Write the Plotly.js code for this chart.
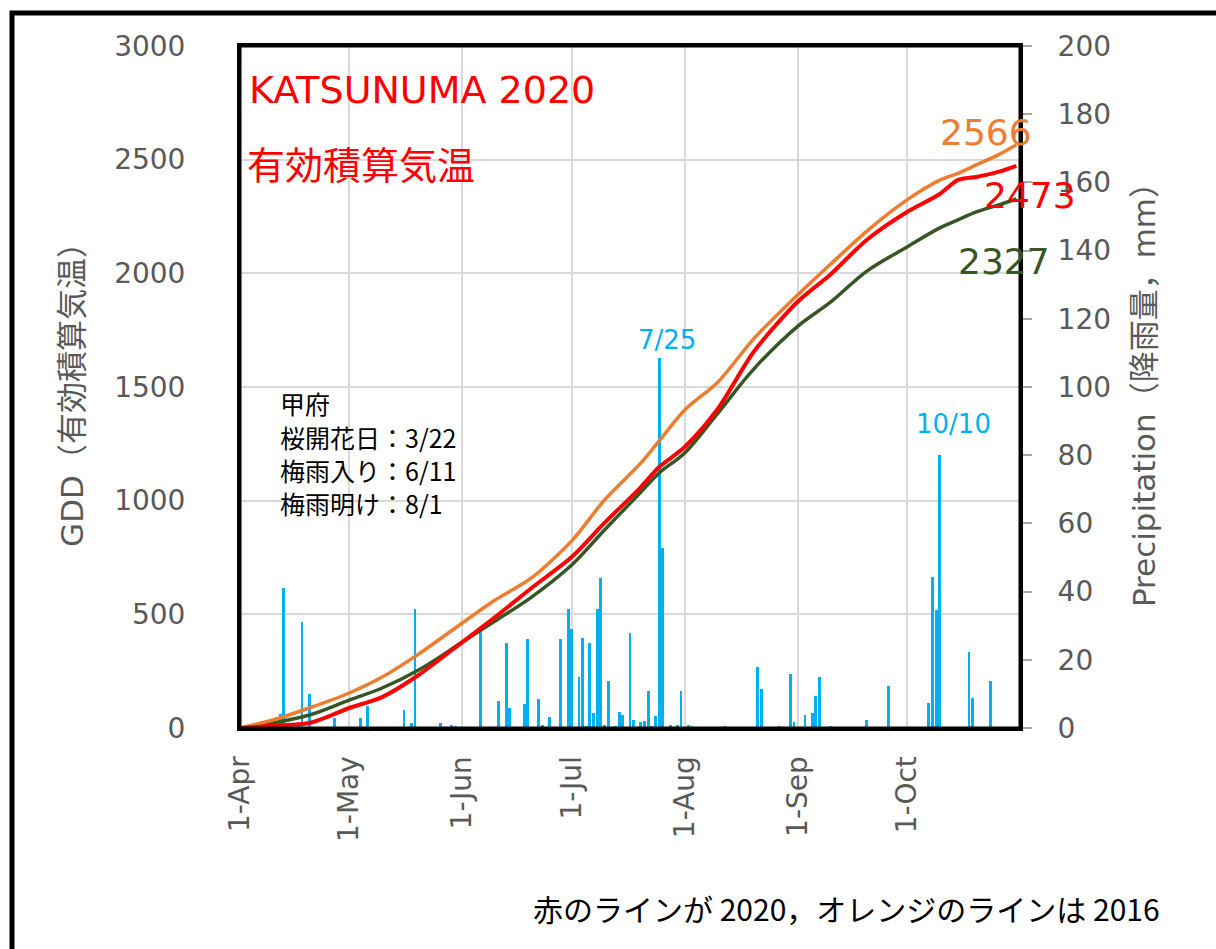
<!DOCTYPE html>
<html><head><meta charset="utf-8">
<script src="https://cdn.plot.ly/plotly-3.0.1.min.js"></script>
<style>html,body{margin:0;padding:0;background:#fff}#chart{width:1216px;height:949px}</style>
</head><body><div id="chart"></div>
<script>
// ---- Data ----
const precipDates = ['2020-04-01','2020-04-12','2020-04-13','2020-04-17','2020-04-18','2020-04-20','2020-04-27','2020-05-04','2020-05-06','2020-05-16','2020-05-18','2020-05-19','2020-05-26','2020-05-29','2020-05-30','2020-06-06','2020-06-11','2020-06-13','2020-06-14','2020-06-18','2020-06-19','2020-06-22','2020-06-23','2020-06-25','2020-06-28','2020-06-30','2020-07-01','2020-07-03','2020-07-04','2020-07-05','2020-07-06','2020-07-07','2020-07-08','2020-07-09','2020-07-10','2020-07-11','2020-07-13','2020-07-14','2020-07-15','2020-07-17','2020-07-18','2020-07-20','2020-07-21','2020-07-22','2020-07-23','2020-07-24','2020-07-25','2020-07-26','2020-07-27','2020-07-28','2020-07-30','2020-07-31','2020-08-02','2020-08-03','2020-08-12','2020-08-21','2020-08-22','2020-08-27','2020-08-30','2020-08-31','2020-09-03','2020-09-05','2020-09-06','2020-09-07','2020-09-10','2020-09-20','2020-09-26','2020-10-07','2020-10-08','2020-10-09','2020-10-10','2020-10-18','2020-10-19','2020-10-24'];
const precipMM = [11,4,41,0.5,31,10,3,3,6.5,5.3,1.5,35,1.5,1,0.5,29,8,25,6,7,26,8.5,1,3.3,26,35,29,15,26.4,0.5,25,4.4,35,44,1,13.8,0.5,4.7,3.8,27.8,2.3,1.7,2,10.8,0.5,3.4,108.5,52.8,0.3,1,1,10.9,1,0.5,0.5,17.9,11.4,0.5,15.8,1.8,3.8,4.4,9.4,15,0.5,2.3,12.3,7.3,44.3,34.6,80,22.3,8.8,13.8];

const gddDates = ['2020-04-01','2020-04-10','2020-04-20','2020-05-01','2020-05-10','2020-05-20','2020-06-01','2020-06-10','2020-06-20','2020-07-01','2020-07-10','2020-07-20','2020-07-25','2020-08-01','2020-08-10','2020-08-20','2020-09-01','2020-09-10','2020-09-20','2020-10-01','2020-10-10','2020-10-15','2020-10-20','2020-10-26','2020-10-31'];
const gdd2016 = [0,35,88,154,224,325,462,563,660,823,1003,1166,1263,1399,1520,1713,1905,2040,2186,2323,2410,2440,2477,2521,2566];
const gdd2020 = [0,10,22,88,136,233,378,488,616,752,902,1060,1148,1236,1402,1656,1875,1995,2148,2270,2349,2411,2424,2446,2473];
const gddAvg  = [0,22,57,123,176,255,378,471,576,717,871,1038,1122,1210,1383,1580,1767,1873,2010,2116,2200,2235,2270,2300,2327];

const monthTicks = ['2020-04-01','2020-05-01','2020-06-01','2020-07-01','2020-08-01','2020-09-01','2020-10-01'];
const monthLabels = ['1-Apr','1-May','1-Jun','1-Jul','1-Aug','1-Sep','1-Oct'];
const gddTicks = [0,500,1000,1500,2000,2500,3000];
const rainTicks = [0,20,40,60,80,100,120,140,160,180,200];
const noteLines = ['甲府','桜開花日：3/22','梅雨入り：6/11','梅雨明け：8/1'];

// ---- Plot ----
const GRAY = '#595959';
const LAT = 'DejaVu Sans, Noto Sans CJK JP, sans-serif';
const CJK = 'Noto Sans CJK JP, DejaVu Sans, sans-serif';
const px = v => (v-240)/780;   // pixel -> paper x
const py = v => (728-v)/682;   // pixel -> paper y

const traces = [
  {type:'bar', x:precipDates, y:precipMM, yaxis:'y', marker:{color:'#00B0F0', line:{width:0}},
   width: 0.8*86400000, name:'Precipitation', hoverinfo:'x+y'},
  {type:'scatter', mode:'lines', x:gddDates, y:gddAvg, yaxis:'y2', name:'平年',
   line:{color:'#375623', width:3.5, shape:'spline', smoothing:1}},
  {type:'scatter', mode:'lines', x:gddDates, y:gdd2016, yaxis:'y2', name:'2016',
   line:{color:'#ED7D31', width:3.5, shape:'spline', smoothing:0.8}},
  {type:'scatter', mode:'lines', x:gddDates, y:gdd2020, yaxis:'y2', name:'2020',
   line:{color:'#FF0000', width:4, shape:'spline', smoothing:0.8}}
];

const annotations = [
  {xref:'paper', yref:'paper', x:px(247), y:py(90), xanchor:'left', yanchor:'middle', showarrow:false,
   text:'KATSUNUMA 2020', font:{family:LAT, size:38, color:'#FF0000'}},
  {xref:'paper', yref:'paper', x:px(245), y:py(163), xanchor:'left', yanchor:'middle', showarrow:false,
   text:'有効積算気温', font:{family:CJK, size:38, color:'#FF0000'}},
  {xref:'paper', yref:'paper', x:px(986), y:py(132), xanchor:'center', yanchor:'middle', showarrow:false,
   text:'2566', font:{family:LAT, size:36, color:'#ED7D31'}},
  {xref:'paper', yref:'paper', x:px(1030), y:py(195), xanchor:'center', yanchor:'middle', showarrow:false,
   text:'2473', font:{family:LAT, size:36, color:'#FF0000'}},
  {xref:'paper', yref:'paper', x:px(1004), y:py(261), xanchor:'center', yanchor:'middle', showarrow:false,
   text:'2327', font:{family:LAT, size:36, color:'#375623'}},
  {xref:'paper', yref:'paper', x:px(667), y:py(340), xanchor:'center', yanchor:'middle', showarrow:false,
   text:'7/25', font:{family:LAT, size:26, color:'#00B0F0'}},
  {xref:'paper', yref:'paper', x:px(953), y:py(424), xanchor:'center', yanchor:'middle', showarrow:false,
   text:'10/10', font:{family:LAT, size:26, color:'#00B0F0'}},
  {xref:'paper', yref:'paper', x:px(846), y:py(908), xanchor:'center', yanchor:'middle', showarrow:false,
   text:'赤のラインが 2020，オレンジのラインは 2016', font:{family:CJK, size:30, color:'#000'}}
];
const noteY = [403, 437, 470, 503];
noteLines.forEach((t, i) => annotations.push({
  xref:'paper', yref:'paper', x:px(278), y:py(noteY[i]), xanchor:'left', yanchor:'middle', showarrow:false,
  text:t, font:{family:CJK, size:25, color:'#000'}
}));

const layout = {
  width:1216, height:949,
  margin:{l:240, r:196, t:46, b:221},
  paper_bgcolor:'#ffffff', plot_bgcolor:'#ffffff',
  showlegend:false,
  bargap:0,
  xaxis:{type:'date', range:['2020-04-01','2020-11-01'],
    tickvals:monthTicks, ticktext:monthLabels, tickangle:-90,
    tickfont:{family:LAT, size:28, color:GRAY},
    showgrid:true, gridcolor:'#D9D9D9', gridwidth:2,
    ticks:'', ticklabelstandoff:14,
    showline:true, linecolor:'#000', linewidth:3, mirror:true, zeroline:false},
  yaxis:{side:'right', range:[0,200], tickvals:rainTicks,
    tickfont:{family:LAT, size:28, color:GRAY},
    ticks:'outside', ticklen:9, tickcolor:'#A6A6A6', tickwidth:2, ticklabelstandoff:20,
    showgrid:false, zeroline:false,
    showline:true, linecolor:'#000', linewidth:3,
    title:{text:'Precipitation（降雨量，mm）', font:{family:LAT, size:31, color:GRAY}, standoff:24}},
  yaxis2:{side:'left', overlaying:'y', range:[0,3000], tickvals:gddTicks,
    tickfont:{family:LAT, size:28, color:GRAY},
    ticks:'', ticklabelstandoff:46,
    showgrid:true, gridcolor:'#D9D9D9', gridwidth:2, zeroline:false,
    showline:true, linecolor:'#000', linewidth:3,
    title:{text:'GDD（有効積算気温）', font:{family:LAT, size:31, color:GRAY}, standoff:22}},
  shapes:[
    {type:'rect', xref:'paper', yref:'paper', x0:0, x1:1, y0:0, y1:1, line:{color:'#000', width:3}, fillcolor:'rgba(0,0,0,0)'},
    {type:'rect', xref:'paper', yref:'paper', x0:px(12), x1:px(1230), y0:py(960), y1:py(13), line:{color:'#000', width:5}, fillcolor:'rgba(0,0,0,0)'}
  ],
  annotations: annotations
};

Plotly.newPlot('chart', traces, layout, {displayModeBar:false, staticPlot:true});
</script></body></html>
